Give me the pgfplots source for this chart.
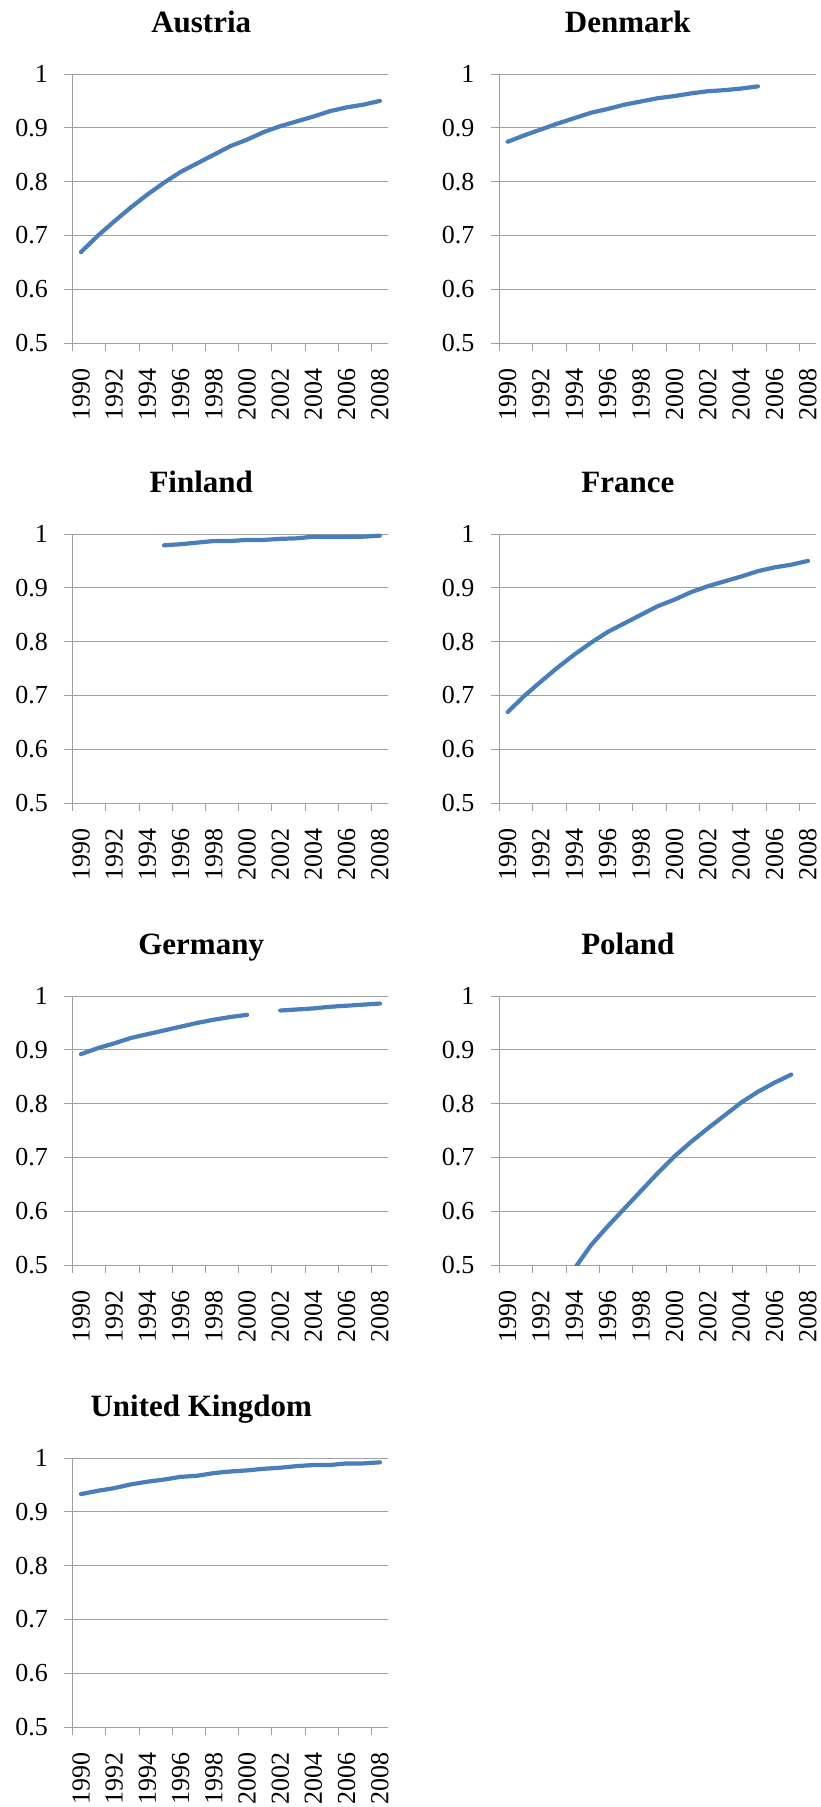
\documentclass[border=0pt]{standalone}
\usepackage{fontspec}
\setmainfont{Liberation Serif}
\usepackage{pgfplots}
\pgfplotsset{compat=1.18}
\definecolor{linec}{HTML}{4A7EBB}
\definecolor{gridc}{HTML}{A0A0A0}
\pgfplotsset{
  ser/.style={draw=linec, line width=4.2bp, line cap=round, line join=round, mark=none},
  panel/.style={
    scale only axis, height=269bp,
    xmin=1989.5, xmax=2008.5, ymin=0.5, ymax=1,
    axis x line*=bottom, axis y line*=left,
    axis line style={draw=gridc, line width=1bp},
    ymajorgrids, grid style={draw=gridc, line width=1bp},
    ytick={0.5,0.6,0.7,0.8,0.9,1},
    xtick={1990,1992,1994,1996,1998,2000,2002,2004,2006,2008},
    minor xtick={1989.5,1991.5,1993.5,1995.5,1997.5,1999.5,2001.5,2003.5,2005.5,2007.5},
    xticklabel style={rotate=90, anchor=east, inner sep=0pt},
    yticklabel style={anchor=east, inner sep=0pt},
    x tick label style={/pgf/number format/1000 sep={}},
    /pgf/number format/assume math mode=true,
    tick align=outside,
    major tick length=8.4bp, minor tick length=7.5bp,
    xtick style={draw=none},
    minor x tick style={draw=gridc, line width=1bp},
    ytick style={draw=gridc, line width=1bp},
    xticklabel shift=16.6bp, yticklabel shift=16.3bp,
    tick label style={font=\fontsize{26bp}{27bp}\selectfont},
    title style={at={(axis description cs:0,1)}, anchor=base, xshift=128.5bp, yshift=36bp,
      font=\fontsize{31bp}{32bp}\selectfont\bfseries},
    unbounded coords=jump,
    clip=false,
  },
  leftcol/.style={panel, width=315.5bp},
  rightcol/.style={panel, width=317bp},
}
\begin{document}
\begin{tikzpicture}
\path[use as bounding box] (0,0) rectangle (821bp,-1807bp);

\begin{axis}[leftcol, at={(72.7bp,-343bp)}, anchor=south west, title={Austria}]
\addplot[ser] coordinates {(1990,0.669)(1991,0.699)(1992,0.726)(1993,0.752)(1994,0.776)(1995,0.798)(1996,0.818)(1997,0.834)(1998,0.850)(1999,0.866)(2000,0.878)(2001,0.892)(2002,0.903)(2003,0.912)(2004,0.921)(2005,0.931)(2006,0.938)(2007,0.943)(2008,0.950)};
\end{axis}

\begin{axis}[rightcol, at={(499.3bp,-343bp)}, anchor=south west, title={Denmark}]
\addplot[ser] coordinates {(1990,0.874)(1991,0.886)(1992,0.897)(1993,0.908)(1994,0.918)(1995,0.928)(1996,0.935)(1997,0.943)(1998,0.949)(1999,0.955)(2000,0.959)(2001,0.964)(2002,0.968)(2003,0.970)(2004,0.973)(2005,0.977)};
\end{axis}

\begin{axis}[leftcol, at={(72.7bp,-803bp)}, anchor=south west, title={Finland}]
\addplot[ser] coordinates {(1995,0.979)(1996,0.981)(1997,0.984)(1998,0.987)(1999,0.987)(2000,0.989)(2001,0.989)(2002,0.991)(2003,0.992)(2004,0.995)(2005,0.995)(2006,0.995)(2007,0.995)(2008,0.997)};
\end{axis}

\begin{axis}[rightcol, at={(499.3bp,-803bp)}, anchor=south west, title={France}]
\addplot[ser] coordinates {(1990,0.669)(1991,0.699)(1992,0.726)(1993,0.752)(1994,0.776)(1995,0.798)(1996,0.818)(1997,0.834)(1998,0.850)(1999,0.866)(2000,0.878)(2001,0.892)(2002,0.903)(2003,0.912)(2004,0.921)(2005,0.931)(2006,0.938)(2007,0.943)(2008,0.950)};
\end{axis}

\begin{axis}[leftcol, at={(72.7bp,-1265bp)}, anchor=south west, title={Germany}]
\addplot[ser] coordinates {(1990,0.892)(1991,0.903)(1992,0.912)(1993,0.922)(1994,0.929)(1995,0.936)(1996,0.943)(1997,0.950)(1998,0.956)(1999,0.961)(2000,0.965)(2001,nan)(2002,0.973)(2003,0.975)(2004,0.977)(2005,0.980)(2006,0.982)(2007,0.984)(2008,0.986)};
\end{axis}

\begin{axis}[rightcol, at={(499.3bp,-1265bp)}, anchor=south west, title={Poland}, clip=true]
\addplot[ser] coordinates {(1994,0.493)(1995,0.537)(1996,0.572)(1997,0.605)(1998,0.638)(1999,0.671)(2000,0.702)(2001,0.729)(2002,0.754)(2003,0.778)(2004,0.802)(2005,0.822)(2006,0.839)(2007,0.854)};
\end{axis}

\begin{axis}[leftcol, at={(72.7bp,-1727bp)}, anchor=south west, title={United Kingdom}]
\addplot[ser] coordinates {(1990,0.933)(1991,0.939)(1992,0.944)(1993,0.951)(1994,0.956)(1995,0.960)(1996,0.965)(1997,0.967)(1998,0.972)(1999,0.975)(2000,0.977)(2001,0.980)(2002,0.982)(2003,0.985)(2004,0.987)(2005,0.987)(2006,0.990)(2007,0.990)(2008,0.992)};
\end{axis}
\end{tikzpicture}
\end{document}
